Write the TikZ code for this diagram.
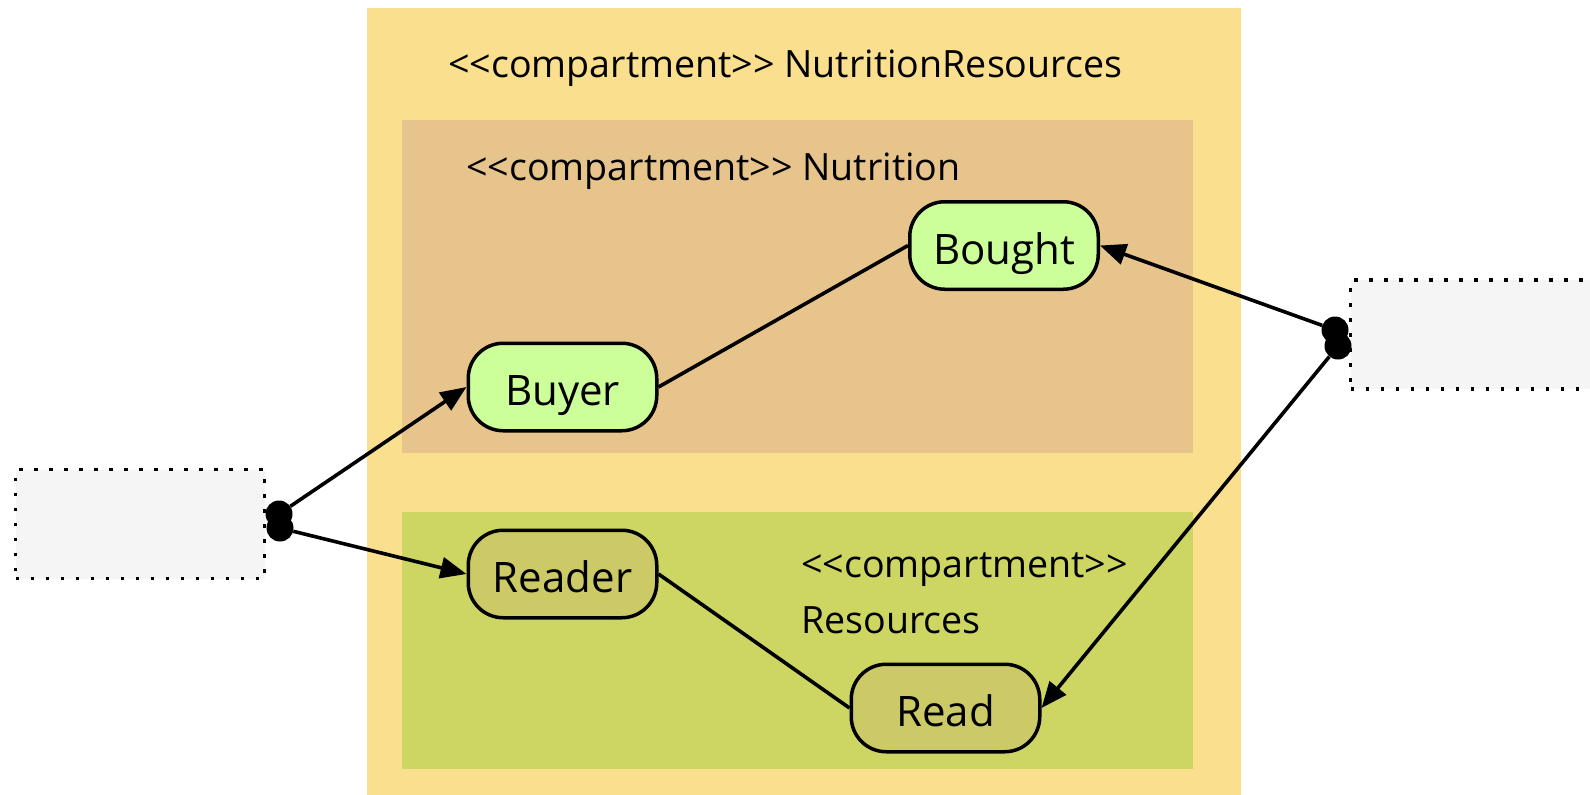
\documentclass[tikz,border=0pt]{standalone}
\usepackage{fontspec}
\setmainfont{Open Sans}[Ligatures=TeXOff]
\usetikzlibrary{arrows.meta}
\definecolor{outerc}{HTML}{FADF8E}
\definecolor{nutric}{HTML}{E8C48D}
\definecolor{resc}{HTML}{CDD563}
\definecolor{greenn}{HTML}{CCFF99}
\definecolor{olivn}{HTML}{CCCA66}
\definecolor{boxc}{HTML}{F5F5F5}
\tikzset{
  comp/.style={draw=none, inner sep=0pt, outer sep=0pt, anchor=north west},
  lbl/.style={inner sep=0pt, anchor=base west, font=\fontsize{37.6}{44}\selectfont},
  state/.style={draw=black, line width=3.5pt, rounded corners=35pt, minimum width=188.5pt, minimum height=87.5pt, inner sep=0pt, text height=37pt, text depth=0pt, font=\fontsize{42}{50}\selectfont},
  ext/.style={draw=black, fill=boxc, line width=3.8pt, dash pattern=on 3.8pt off 11.2pt, minimum width=249pt, minimum height=109pt, inner sep=0pt},
  blob/.style={circle, fill=black, inner sep=0pt, minimum size=27pt},
  conn/.style={line width=3.6pt},
  arr/.style={line width=3.6pt, -{Triangle[length=26pt,width=21pt]}},
}
\begin{document}
\begin{tikzpicture}[x=1pt,y=-1pt]
\useasboundingbox (0,0) rectangle (1590,795);
\clip (0,0) rectangle (1590,795);
% compartments
\node[comp, fill=outerc, minimum width=874pt, minimum height=800pt] (outer) at (367,8) {};
\node[comp, fill=nutric, minimum width=791pt, minimum height=333pt] (nutri) at (402,120) {};
\node[comp, fill=resc, minimum width=791pt, minimum height=257pt] (res) at (402,512) {};
\node[lbl] (t1) at (448,77) {<<compartment>> NutritionResources};
\node[lbl] (t2) at (466,180) {<<compartment>> Nutrition};
\node[lbl] (t3) at (801,577) {<<compartment>>};
\node[lbl] (t4) at (801,633) {Resources};
% states
\node[state, fill=greenn] (Bought) at (1004,245.5) {Bought};
\node[state, fill=greenn] (Buyer) at (562.5,387) {Buyer};
\node[state, fill=olivn] (Reader) at (562.5,574) {Reader};
\node[state, fill=olivn] (Read) at (945.5,708) {Read};
% external boxes
\node[ext] (left) at (140,524) {};
\node[ext] (right) at (1475,334.5) {};
% markers
\node[blob] (l1) at (279,514) {};
\node[blob] (l2) at (280,528) {};
\node[blob] (r1) at (1335,330) {};
\node[blob] (r2) at (1338,346) {};
% connectors
\draw[conn] (Buyer.east) -- (Bought.west);
\draw[conn] (Reader.east) -- (Read.west);
\draw[arr] (l1) -- (Buyer.west);
\draw[arr] (l2) -- (Reader.west);
\draw[arr] (r1) -- (Bought.east);
\draw[arr] (r2) -- (Read.east);
\end{tikzpicture}
\end{document}
